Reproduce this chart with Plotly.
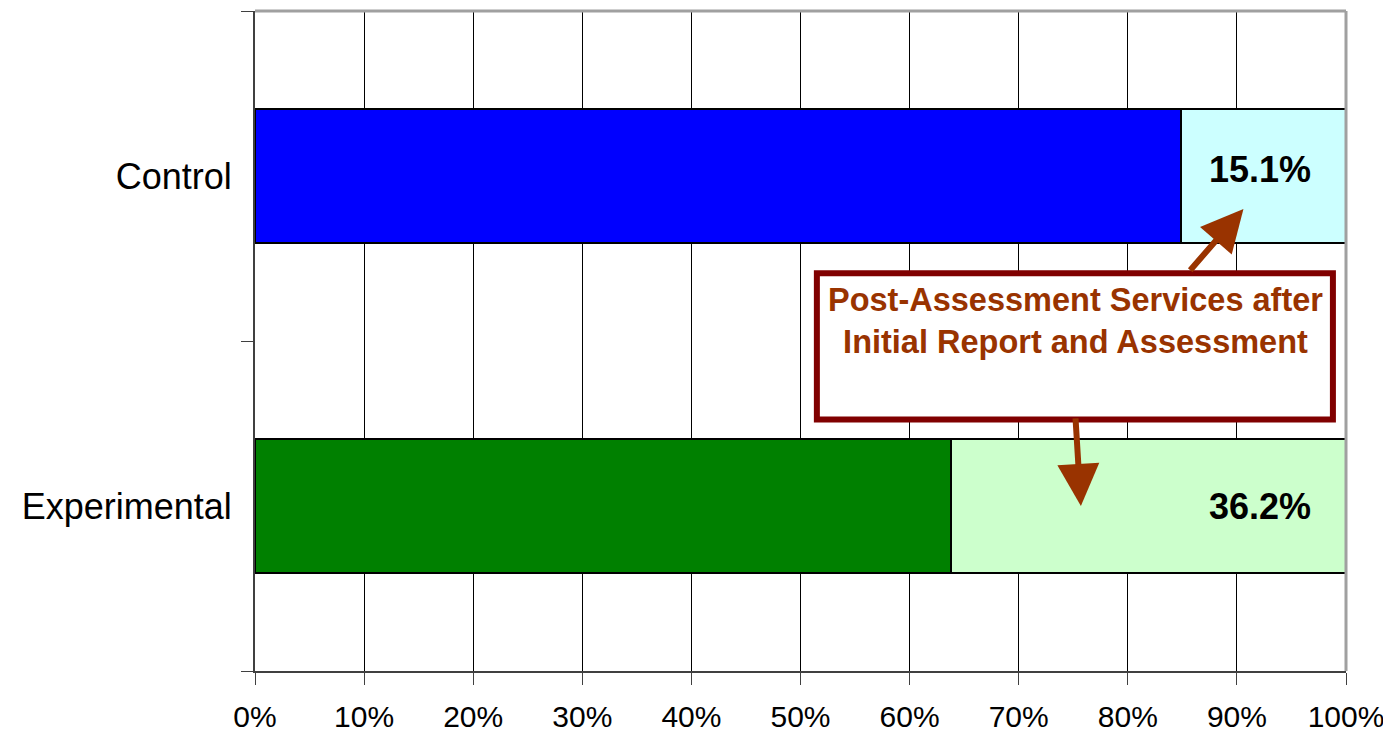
import plotly.graph_objects as go

categories = ["Experimental", "Control"]
initial_only = [63.8, 84.9]          # dark segment
post_assessment = [36.2, 15.1]       # light segment
dark_colors = ["#008000", "#0000FF"]
light_colors = ["#CCFFCC", "#CCFFFF"]
x_ticks = list(range(0, 101, 10))
callout_text = "Post-Assessment Services after<br>Initial Report and Assessment"

FONT = "Arial, Liberation Sans, sans-serif"
ARROW = "#993300"

fig = go.Figure()
fig.add_trace(go.Bar(
    y=categories, x=initial_only, orientation="h", width=0.405,
    marker=dict(color=dark_colors, line=dict(color="black", width=2)),
    showlegend=False, hoverinfo="skip"))
fig.add_trace(go.Bar(
    y=categories, x=post_assessment, orientation="h", width=0.405,
    marker=dict(color=light_colors, line=dict(color="black", width=2)),
    showlegend=False, hoverinfo="skip"))

annotations = []
# value labels
label_y = {"Experimental": 0.0, "Control": 1.02}
for cat, v in zip(categories, post_assessment):
    annotations.append(dict(
        x=97, y=label_y[cat], xref="x", yref="y", text=f"<b>{v:.1f}%</b>",
        showarrow=False, xanchor="right", yanchor="middle",
        font=dict(family=FONT, size=36, color="black")))

# arrows from callout box
annotations.append(dict(
    x=90.6, y=0.90, xref="x", yref="y", ax=85.6, ay=0.71, axref="x", ayref="y",
    showarrow=True, arrowhead=2, arrowsize=1.4, arrowwidth=6, arrowcolor=ARROW,
    standoff=0, text=""))
annotations.append(dict(
    x=75.7, y=0.0, xref="x", yref="y", ax=75.2, ay=0.27, axref="x", ayref="y",
    showarrow=True, arrowhead=2, arrowsize=1.4, arrowwidth=6, arrowcolor=ARROW,
    standoff=0, text=""))

# callout text
annotations.append(dict(
    x=75.2, y=0.562, xref="x", yref="y", text=f"<b>{callout_text}</b>",
    showarrow=False, xanchor="center", yanchor="middle", align="center",
    font=dict(family=FONT, size=32.5, color=ARROW)))

shapes = [
    # callout box
    dict(type="rect", xref="x", yref="y", x0=51.5, x1=98.8, y0=0.262, y1=0.705,
         line=dict(color="#800000", width=6), fillcolor="white", layer="above"),
    # top and right plot borders (gray)
    dict(type="line", xref="paper", yref="paper", x0=0, x1=1, y0=1, y1=1,
         line=dict(color="#A0A0A0", width=3)),
    dict(type="line", xref="paper", yref="paper", x0=1, x1=1, y0=0, y1=1,
         line=dict(color="#A0A0A0", width=3)),
]

fig.update_layout(
    barmode="stack",
    width=1391, height=733,
    margin=dict(l=247, r=53, t=3, b=70),
    plot_bgcolor="white", paper_bgcolor="white",
    font=dict(family=FONT, color="black"),
    annotations=annotations,
    shapes=shapes,
    xaxis=dict(
        range=[0, 100], tickvals=x_ticks, ticktext=[f"{t}%" for t in x_ticks],
        showgrid=True, gridcolor="black", gridwidth=1,
        showline=True, linecolor="#404040", linewidth=2,
        ticks="outside", ticklen=12, tickcolor="#404040", tickwidth=1,
        tickfont=dict(size=30, family=FONT), ticklabelstandoff=6,
        zeroline=False, fixedrange=True),
    yaxis=dict(
        type="category", categoryorder="array", categoryarray=categories,
        range=[-0.5, 1.5], showgrid=False,
        showline=True, linecolor="#404040", linewidth=2,
        ticks="outside", ticklen=12, tickcolor="#404040", tickwidth=1,
        tickson="boundaries",
        tickfont=dict(size=36, family=FONT), ticklabelstandoff=14,
        zeroline=False, fixedrange=True),
)

fig.write_html("out.html")
